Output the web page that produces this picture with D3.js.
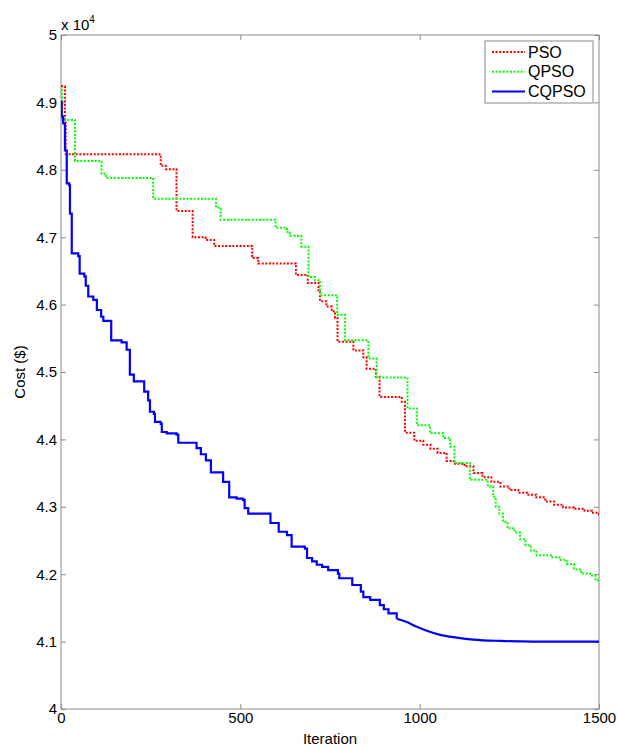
<!DOCTYPE html>
<html>
<head>
<meta charset="utf-8">
<script src="https://cdn.jsdelivr.net/npm/d3@7"></script>
<style>
  body { margin: 0; background: #fff; }
  text { font-family: "Liberation Sans", Arial, sans-serif; fill: #000; }
</style>
</head>
<body>
<div id="chart"></div>
<script>
// data (cost in units of 1e4, value holds from that iteration on)
var psoIter = [0, 11, 13, 278, 292, 322, 367, 403, 427, 533, 550, 655, 688, 718, 722, 740, 755, 764, 771, 815, 843, 852, 878, 888, 950, 959, 985, 1010, 1030, 1050, 1075, 1095, 1125, 1150, 1175, 1200, 1225, 1250, 1275, 1300, 1325, 1350, 1375, 1400, 1430, 1460, 1480, 1500];
var psoCost = [4.924, 4.870, 4.823, 4.806, 4.801, 4.739, 4.700, 4.696, 4.687, 4.669, 4.661, 4.644, 4.632, 4.619, 4.605, 4.597, 4.590, 4.580, 4.545, 4.532, 4.522, 4.505, 4.493, 4.463, 4.456, 4.410, 4.398, 4.392, 4.386, 4.380, 4.368, 4.364, 4.360, 4.350, 4.344, 4.337, 4.330, 4.325, 4.321, 4.318, 4.314, 4.308, 4.303, 4.299, 4.297, 4.294, 4.291, 4.288];

var qpsoIter = [0, 3, 39, 113, 125, 257, 432, 445, 598, 630, 638, 670, 690, 708, 722, 770, 792, 857, 880, 966, 992, 1029, 1066, 1085, 1097, 1140, 1190, 1205, 1212, 1222, 1232, 1245, 1265, 1280, 1295, 1310, 1326, 1370, 1390, 1410, 1430, 1450, 1475, 1490, 1500];
var qpsoCost = [4.918, 4.874, 4.813, 4.794, 4.788, 4.757, 4.744, 4.726, 4.714, 4.708, 4.702, 4.686, 4.641, 4.636, 4.614, 4.585, 4.547, 4.520, 4.492, 4.446, 4.421, 4.409, 4.402, 4.389, 4.365, 4.340, 4.330, 4.315, 4.300, 4.290, 4.278, 4.268, 4.262, 4.252, 4.243, 4.235, 4.228, 4.225, 4.221, 4.215, 4.207, 4.201, 4.198, 4.191, 4.191];

// stepped part of CQPSO
var cqpsoIter = [0, 2, 6, 11, 16, 23, 25, 30, 48, 52, 65, 69, 76, 90, 100, 112, 118, 140, 169, 183, 192, 203, 232, 243, 248, 259, 262, 278, 281, 295, 322, 327, 378, 390, 404, 418, 452, 469, 490, 508, 512, 522, 584, 607, 630, 643, 680, 686, 700, 713, 728, 745, 772, 776, 812, 836, 843, 862, 889, 900, 913, 936];
var cqpsoCost = [4.901, 4.879, 4.869, 4.829, 4.780, 4.777, 4.735, 4.676, 4.672, 4.646, 4.642, 4.628, 4.612, 4.607, 4.592, 4.582, 4.576, 4.547, 4.544, 4.533, 4.496, 4.486, 4.471, 4.458, 4.441, 4.438, 4.426, 4.423, 4.411, 4.409, 4.407, 4.395, 4.387, 4.378, 4.369, 4.351, 4.337, 4.314, 4.312, 4.310, 4.298, 4.290, 4.276, 4.263, 4.258, 4.241, 4.238, 4.224, 4.219, 4.214, 4.211, 4.206, 4.201, 4.194, 4.184, 4.174, 4.166, 4.162, 4.154, 4.148, 4.142, 4.134];
// smooth tail of CQPSO
var cqpsoTailIter = [936, 964, 992, 1020, 1057, 1103, 1150, 1224, 1317, 1400, 1500];
var cqpsoTailCost = [4.134, 4.129, 4.122, 4.116, 4.110, 4.106, 4.103, 4.101, 4.100, 4.100, 4.100];

var seriesNames = ["PSO", "QPSO", "CQPSO"];
var seriesColors = ["#ff0000", "#00ff00", "#0000ff"];
var xTicks = [0, 500, 1000, 1500];
var yTicks = [4, 4.1, 4.2, 4.3, 4.4, 4.5, 4.6, 4.7, 4.8, 4.9, 5];

var svgWidth = 618;
var svgHeight = 747;

var margin = {
    top: 35,
    right: 19,
    bottom: 38,
    left: 61
};

var width = svgWidth - margin.left - margin.right;
var height = svgHeight - margin.top - margin.bottom;

var svg = d3.select("#chart")
    .append("svg")
    .attr("width", svgWidth)
    .attr("height", svgHeight);

var chartGroup = svg.append("g")
    .attr("transform", `translate(${margin.left}, ${margin.top})`);

var xScale = d3.scaleLinear().domain([0, 1500]).range([0, width]);
var yScale = d3.scaleLinear().domain([4, 5]).range([height, 0]);

var axisColor = "#8a8a8a";

// clip so lines stay inside the box
chartGroup.append("clipPath")
    .attr("id", "plotClip")
    .append("rect")
    .attr("width", width)
    .attr("height", height);

// bottom + left axes, ticks pointing inwards
var bottomAxis = d3.axisBottom(xScale).tickValues(xTicks).tickSizeInner(-5).tickSizeOuter(0).tickPadding(3)
    .tickFormat(d3.format("d"));
var leftAxis = d3.axisLeft(yScale).tickValues(yTicks).tickSizeInner(-5).tickSizeOuter(0).tickPadding(4)
    .tickFormat(d => String(+d.toFixed(1)));
var topAxis = d3.axisTop(xScale).tickValues(xTicks).tickSizeInner(-5).tickSizeOuter(0).tickFormat("");
var rightAxis = d3.axisRight(yScale).tickValues(yTicks).tickSizeInner(-5).tickSizeOuter(0).tickFormat("");

var xAxisG = chartGroup.append("g").attr("transform", `translate(0, ${height})`).call(bottomAxis);
var yAxisG = chartGroup.append("g").call(leftAxis);
var topG = chartGroup.append("g").call(topAxis);
var rightG = chartGroup.append("g").attr("transform", `translate(${width}, 0)`).call(rightAxis);

[xAxisG, yAxisG, topG, rightG].forEach(function(g) {
    g.select(".domain").remove();
    g.selectAll(".tick line").attr("stroke", axisColor);
    g.selectAll("text")
        .attr("font-size", 15)
        .attr("font-family", "Liberation Sans, Arial, sans-serif")
        .attr("fill", "#000");
});

// box
chartGroup.append("rect")
    .attr("width", width)
    .attr("height", height)
    .attr("fill", "none")
    .attr("stroke", axisColor)
    .attr("stroke-width", 1);

// exponent label
var expText = chartGroup.append("text")
    .attr("x", 0)
    .attr("y", -5)
    .attr("font-size", 15);
expText.append("tspan").text("x 10");
expText.append("tspan").attr("dy", -7).attr("font-size", 10).text("4");

// series lines
var stepLine = d3.line()
    .x(d => xScale(d[0]))
    .y(d => yScale(d[1]))
    .curve(d3.curveStepAfter);

var smoothLine = d3.line()
    .x(d => xScale(d[0]))
    .y(d => yScale(d[1]))
    .curve(d3.curveMonotoneX);

var lineGroup = chartGroup.append("g").attr("clip-path", "url(#plotClip)");

var series = [
    { data: d3.zip(psoIter, psoCost), line: stepLine, i: 0 },
    { data: d3.zip(qpsoIter, qpsoCost), line: stepLine, i: 1 },
    { data: d3.zip(cqpsoIter, cqpsoCost), line: stepLine, i: 2 },
    { data: d3.zip(cqpsoTailIter, cqpsoTailCost), line: smoothLine, i: 2 }
];

series.forEach(function(s) {
    var path = lineGroup.append("path")
        .datum(s.data)
        .attr("fill", "none")
        .attr("stroke", seriesColors[s.i])
        .attr("stroke-width", s.i === 2 ? 2.2 : 2)
        .attr("d", s.line);
    if (s.i < 2) path.attr("stroke-dasharray", "2,1.6");
});

// axis titles
chartGroup.append("text")
    .attr("x", width / 2)
    .attr("y", height + 35)
    .attr("text-anchor", "middle")
    .attr("font-size", 15)
    .text("Iteration");

chartGroup.append("text")
    .attr("transform", "rotate(-90)")
    .attr("x", -height / 2)
    .attr("y", -margin.left + 25)
    .attr("text-anchor", "middle")
    .attr("font-size", 15)
    .text("Cost ($)");

// legend
var legend = chartGroup.append("g")
    .attr("transform", `translate(${width - 114}, 6)`);

legend.append("rect")
    .attr("width", 108)
    .attr("height", 62)
    .attr("fill", "#fff")
    .attr("stroke", axisColor);

seriesNames.forEach(function(name, i) {
    var y = 11 + i * 19.7;
    var l = legend.append("line")
        .attr("x1", 7)
        .attr("x2", 40)
        .attr("y1", y)
        .attr("y2", y)
        .attr("stroke", seriesColors[i])
        .attr("stroke-width", 2);
    if (i < 2) l.attr("stroke-dasharray", "2,1.6");
    legend.append("text")
        .attr("x", 43)
        .attr("y", y + 5.5)
        .attr("font-size", 16)
        .text(name);
});
</script>
</body>
</html>
